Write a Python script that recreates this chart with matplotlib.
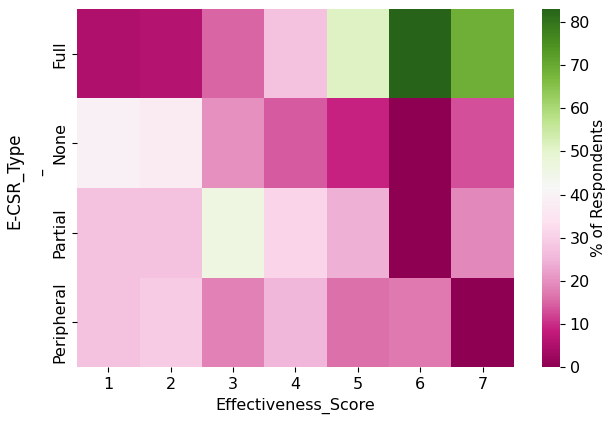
import numpy as np
import pandas as pd
import seaborn as sns
from matplotlib import pyplot as plt

# Share of respondents (%) per E-CSR type for each effectiveness score
scores = [1, 2, 3, 4, 5, 6, 7]
csr_types = ["Full", "None", "Partial", "Peripheral"]

full = [5, 6, 15, 27, 51, 83, 69]
none = [39, 37, 20, 14, 9, 0, 13]
partial = [27, 27, 46, 31, 24, 0, 19]
peripheral = [27, 29, 18, 25, 16, 17, 0]

table = pd.DataFrame(
    [full, none, partial, peripheral],
    index=pd.Index(csr_types, name="E-CSR_Type"),
    columns=pd.Index(scores, name="Effectiveness_Score"),
)

fs = 11.5

fig = plt.figure(figsize=(6.08, 4.25), dpi=100)
ax = fig.add_axes([0.127, 0.136, 0.718, 0.843])
cax = fig.add_axes([0.891, 0.136, 0.030, 0.843])

sns.heatmap(
    table,
    cmap="PiYG",
    vmin=0,
    ax=ax,
    cbar_ax=cax,
)

ax.set_xlabel("Effectiveness_Score", fontsize=fs)
ax.set_ylabel("E-CSR_Type", fontsize=fs + 0.5)
ax.yaxis.set_label_coords(-0.124, 0.52)
ax.tick_params(labelsize=fs)
cax.tick_params(labelsize=fs)
cax.set_ylabel("% of Respondents", fontsize=fs - 0.5, labelpad=1)

# small stray dash next to the row labels
fig.text(43 / 608, 1 - 172 / 425, "\u2013", rotation=90,
         ha="center", va="center", fontsize=fs)

fig.savefig("out.png", dpi=100)
